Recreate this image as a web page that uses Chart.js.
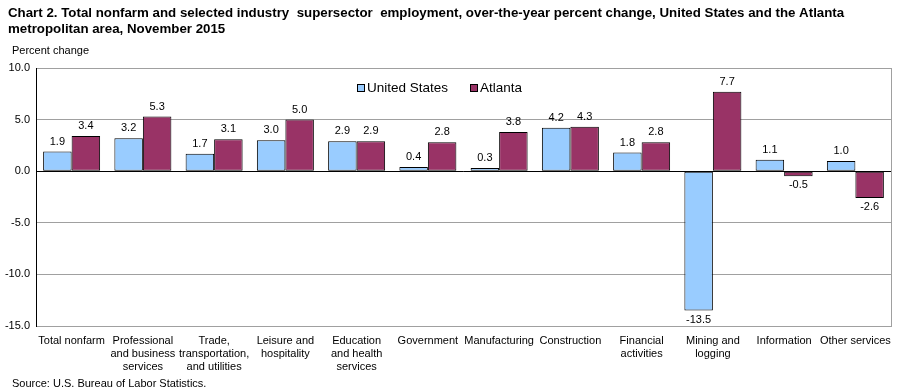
<!DOCTYPE html>
<html><head><meta charset="utf-8">
<script src="https://cdn.jsdelivr.net/npm/chart.js@4.4.1/dist/chart.umd.min.js"></script>
<style>html,body{margin:0;padding:0;background:#fff}#wrap{position:relative;width:901px;height:392px}</style>
</head><body><div id="wrap"><canvas id="c" width="901" height="392"></canvas></div>
<script>
const categories = [
  "Total nonfarm",
  ["Professional","and business","services"],
  ["Trade,","transportation,","and utilities"],
  ["Leisure and","hospitality"],
  ["Education","and health","services"],
  "Government",
  "Manufacturing",
  "Construction",
  ["Financial","activities"],
  ["Mining and","logging"],
  "Information",
  "Other services"
];
const unitedStates = [1.9, 3.2, 1.7, 3.0, 2.9, 0.4, 0.3, 4.2, 1.8, -13.5, 1.1, 1.0];
const atlanta = [3.4, 5.3, 3.1, 5.0, 2.9, 2.8, 3.8, 4.3, 2.8, 7.7, -0.5, -2.6];
const seriesNames = ["United States", "Atlanta"];
const yTicks = [-15, -10, -5, 0, 5, 10];
const titleLines = ["Chart 2. Total nonfarm and selected industry  supersector  employment, over-the-year percent change, United States and the Atlanta", "metropolitan area, November 2015"];
const yAxisTitle = "Percent change";
const sourceText = "Source: U.S. Bureau of Labor Statistics.";

const FONT = "Arial, 'Liberation Sans', sans-serif";

const textPlugin = {
  id: 'texts',
  beforeDraw(chart) {
    const ctx = chart.ctx;
    ctx.save();
    ctx.fillStyle = '#000';
    ctx.textAlign = 'left';
    ctx.textBaseline = 'alphabetic';
    ctx.font = "bold 13.3px " + FONT;
    ctx.fillText(titleLines[0], 8, 17);
    ctx.fillText(titleLines[1], 8, 33);
    ctx.font = "11px " + FONT;
    ctx.fillText(yAxisTitle, 12, 54);
    ctx.fillText(sourceText, 12, 387);
    ctx.restore();
  },
  afterDatasetsDraw(chart) {
    const ctx = chart.ctx;
    ctx.save();
    ctx.font = "11px " + FONT;
    ctx.fillStyle = '#000';
    ctx.textAlign = 'center';
    ctx.textBaseline = 'middle';
    chart.data.datasets.forEach((ds, i) => {
      const meta = chart.getDatasetMeta(i);
      meta.data.forEach((bar, j) => {
        const v = ds.data[j];
        const y = v >= 0 ? bar.y - 10 : bar.y + 9;
        ctx.fillText(v.toFixed(1), bar.x, y);
      });
    });
    const ys = chart.scales.y;
    const y0 = Math.round(ys.getPixelForValue(0)) + 0.5;
    ctx.strokeStyle = '#000';
    ctx.lineWidth = 1;
    ctx.beginPath();
    ctx.moveTo(chart.chartArea.left, y0);
    ctx.lineTo(chart.chartArea.right, y0);
    ctx.stroke();
    const colors = ['#99CCFF', '#993366'];
    const lx = [357, 470];
    ctx.font = "13.5px " + FONT;
    ctx.textAlign = 'left';
    ctx.textBaseline = 'middle';
    seriesNames.forEach((n, i) => {
      ctx.fillStyle = colors[i];
      ctx.fillRect(lx[i] + 0.5, 84.5, 7, 7);
      ctx.strokeStyle = '#000';
      ctx.strokeRect(lx[i] + 0.5, 84.5, 7, 7);
      ctx.fillStyle = '#000';
      ctx.fillText(n, lx[i] + 10, 88);
    });
    ctx.restore();
  }
};

new Chart(document.getElementById('c'), {
  type: 'bar',
  data: {
    labels: categories,
    datasets: [
      { label: seriesNames[0], data: unitedStates, backgroundColor: '#99CCFF', borderColor: '#000', borderWidth: 1, borderSkipped: false, categoryPercentage: 0.8, barPercentage: 1.0 },
      { label: seriesNames[1], data: atlanta, backgroundColor: '#993366', borderColor: '#000', borderWidth: 1, borderSkipped: false, categoryPercentage: 0.8, barPercentage: 1.0 }
    ]
  },
  options: {
    responsive: false,
    animation: false,
    devicePixelRatio: 1,
    layout: { padding: { left: 0, right: 10, top: 68, bottom: 0 } },
    plugins: { legend: { display: false }, tooltip: { enabled: false } },
    scales: {
      x: {
        grid: { display: false, drawTicks: false },
        border: { display: true, color: '#A0A0A0' },
        ticks: { color: '#000', font: { family: FONT, size: 11, lineHeight: 1.15 }, padding: 9, maxRotation: 0, autoSkip: false },
        afterFit(s) { s.height = 66; }
      },
      y: {
        min: -15, max: 10,
        afterBuildTicks(s) { s.ticks = yTicks.map(v => ({ value: v })); },
        grid: { color: '#A0A0A0', drawTicks: false },
        border: { display: true, color: '#000' },
        ticks: { color: '#000', font: { family: FONT, size: 11 }, padding: 6, callback: v => Number(v).toFixed(1) },
        afterFit(s) { s.width = 36; }
      },
      y2: {
        position: 'right', min: -15, max: 10, display: true,
        grid: { display: false, drawTicks: false },
        border: { display: true, color: '#A0A0A0' },
        ticks: { display: false },
        afterFit(s) { s.width = 0; }
      }
    }
  },
  plugins: [textPlugin]
});
</script></body></html>
